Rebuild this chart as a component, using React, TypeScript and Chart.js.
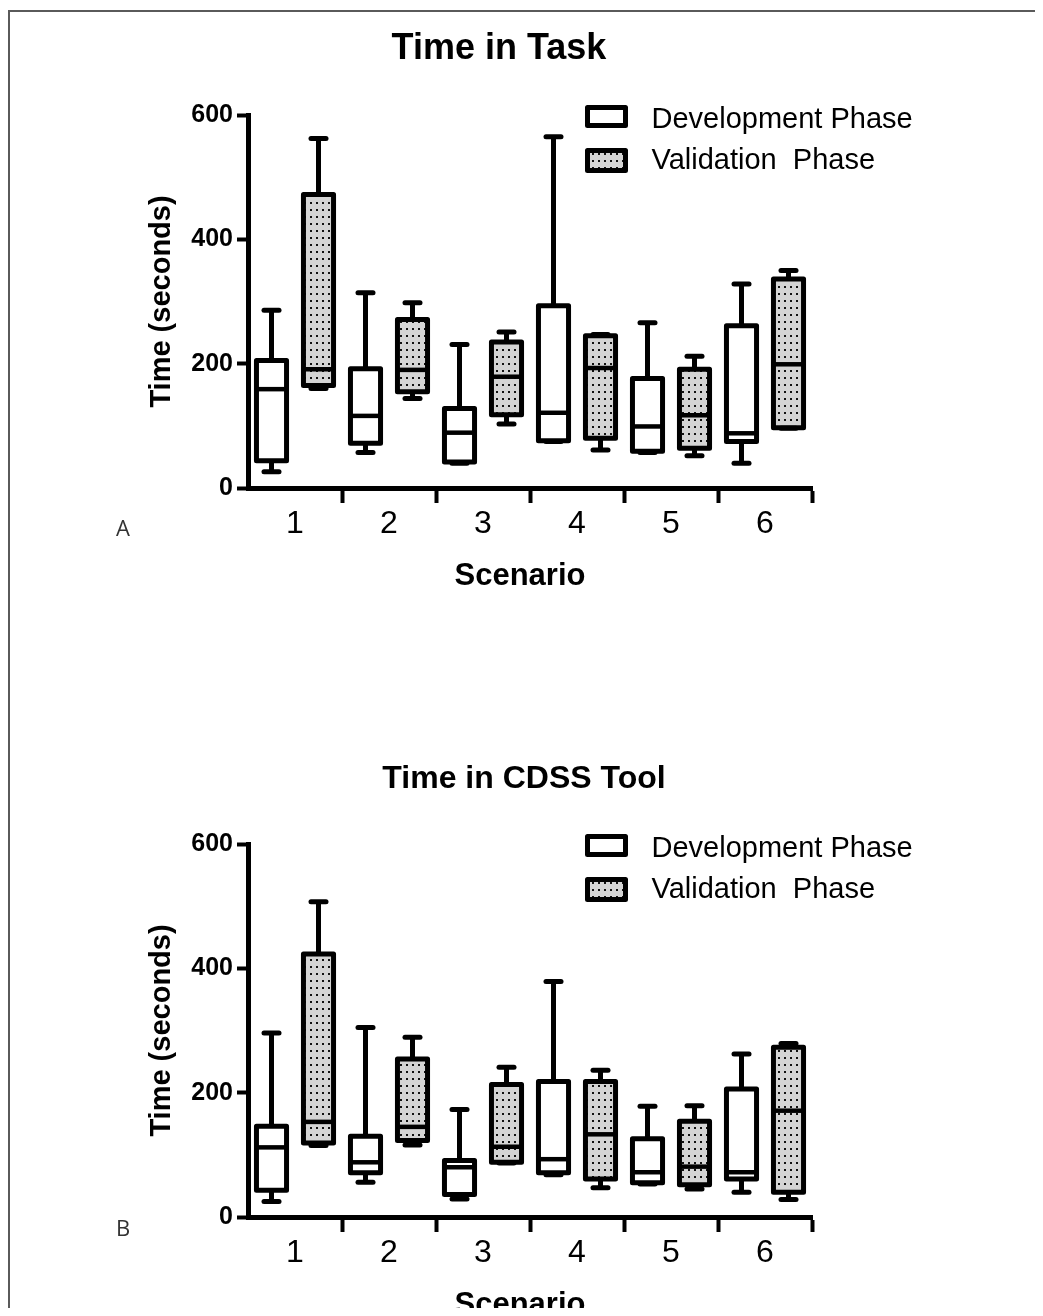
import React, { useEffect, useRef } from 'react';
import { Chart, registerables } from 'chart.js';

Chart.register(...registerables);

const scenarios = ['1', '2', '3', '4', '5', '6'];
const seriesNames = ['Development Phase', 'Validation  Phase'];
const yTickValues = [0, 200, 400, 600];

// Panel A: Time in Task (seconds)
const taskDevMin = [26, 57, 40, 75, 57, 40];
const taskDevQ1 = [44, 72, 42, 76, 59, 75];
const taskDevMedian = [159, 116, 89, 121, 99, 88];
const taskDevQ3 = [205, 192, 128, 293, 176, 261];
const taskDevMax = [286, 314, 231, 565, 266, 328];

const taskValMin = [160, 144, 103, 61, 52, 96];
const taskValQ1 = [165, 155, 118, 80, 64, 97];
const taskValMedian = [191, 190, 179, 193, 117, 199];
const taskValQ3 = [472, 271, 235, 245, 191, 336];
const taskValMax = [562, 298, 251, 247, 212, 350];

// Panel B: Time in CDSS Tool (seconds)
const cdssDevMin = [25, 56, 29, 68, 53, 40];
const cdssDevQ1 = [43, 71, 36, 71, 55, 61];
const cdssDevMedian = [112, 88, 80, 93, 72, 72];
const cdssDevQ3 = [146, 130, 91, 218, 126, 206];
const cdssDevMax = [296, 305, 173, 379, 178, 262];

const cdssValMin = [115, 116, 87, 47, 45, 28];
const cdssValQ1 = [119, 123, 88, 61, 52, 40];
const cdssValMedian = [153, 145, 113, 133, 81, 171];
const cdssValQ3 = [423, 254, 213, 218, 154, 273];
const cdssValMax = [507, 289, 241, 236, 179, 279];

const FONT = '"Liberation Sans", Arial, Helvetica, sans-serif';

function makeDotPattern(): CanvasPattern | string {
  const c = document.createElement('canvas');
  c.width = 6;
  c.height = 7;
  const g = c.getContext('2d');
  if (!g) return '#d3d3d3';
  g.fillStyle = '#d4d4d4';
  g.fillRect(0, 0, 6, 7);
  g.fillStyle = '#111';
  g.fillRect(2, 3, 2, 2);
  const p = g.createPattern(c, 'repeat');
  return p || '#d3d3d3';
}

const boxPlugin = {
  id: 'boxWhisker',
  afterDatasetsDraw(chart: any) {
    const ctx = chart.ctx;
    const ys = chart.scales.y;
    chart.data.datasets.forEach((ds: any, di: number) => {
      const meta = chart.getDatasetMeta(di);
      const st = ds.stats;
      meta.data.forEach((el: any, i: number) => {
        const { x, width } = el.getProps(['x', 'width'], true);
        const half = width / 2;
        const pMin = ys.getPixelForValue(st.min[i]);
        const pQ1 = ys.getPixelForValue(st.q1[i]);
        const pMed = ys.getPixelForValue(st.median[i]);
        const pQ3 = ys.getPixelForValue(st.q3[i]);
        const pMax = ys.getPixelForValue(st.max[i]);
        const line = (x1: number, y1: number, x2: number, y2: number) => {
          ctx.beginPath();
          ctx.moveTo(x1, y1);
          ctx.lineTo(x2, y2);
          ctx.stroke();
        };
        ctx.save();
        ctx.strokeStyle = '#000';
        ctx.lineWidth = 5;
        ctx.lineCap = 'butt';
        line(x, pQ3, x, pMax);
        line(x, pQ1, x, pMin);
        ctx.lineCap = 'round';
        line(x - 7.5, pMax, x + 7.5, pMax);
        line(x - 7.5, pMin, x + 7.5, pMin);
        ctx.lineJoin = 'round';
        ctx.strokeRect(x - half, pQ3, width, pQ1 - pQ3);
        ctx.lineCap = 'butt';
        ctx.lineWidth = 4.5;
        line(x - half, pMed, x + half, pMed);
        ctx.restore();
      });
    });
  },
};

const decorPlugin = {
  id: 'panelDecor',
  afterDraw(chart: any, _args: any, opts: any) {
    const ctx = chart.ctx;
    const area = chart.chartArea;
    ctx.save();
    // Title
    ctx.fillStyle = '#000';
    ctx.font = `bold ${opts.titleSize}px ${FONT}`;
    ctx.textAlign = 'center';
    ctx.textBaseline = 'alphabetic';
    ctx.fillText(opts.title, area.left + opts.titleOffset, 49);
    // X axis title
    ctx.font = `bold 31px ${FONT}`;
    ctx.textBaseline = 'middle';
    ctx.fillText(opts.xTitle, (area.left + area.right) / 2 - 10, area.bottom + 88);
    // Legend
    const ds = chart.data.datasets;
    const bx = area.left + 339.5;
    const rows = [
      { top: 97.5, h: 18, base: 118 },
      { top: 140.5, h: 20, base: 159 },
    ];
    ctx.textBaseline = 'alphabetic';
    ds.forEach((d: any, i: number) => {
      const r = rows[i];
      ctx.fillStyle = d.backgroundColor;
      ctx.fillRect(bx, r.top, 38, r.h);
      ctx.strokeStyle = '#000';
      ctx.lineWidth = 5;
      ctx.lineJoin = 'round';
      ctx.strokeRect(bx, r.top, 38, r.h);
      ctx.fillStyle = '#000';
      ctx.font = `29px ${FONT}`;
      ctx.textAlign = 'left';
      ctx.fillText(d.label, bx + 64, r.base);
    });
    ctx.restore();
  },
};

function buildConfig(
  title: string,
  titleSize: number,
  titleOffset: number,
  dev: number[][],
  val: number[][],
  pattern: CanvasPattern | string
): any {
  const [dMin, dQ1, dMed, dQ3, dMax] = dev;
  const [vMin, vQ1, vMed, vQ3, vMax] = val;
  return {
    type: 'bar',
    data: {
      labels: scenarios,
      datasets: [
        {
          label: seriesNames[0],
          data: dQ1.map((q, i) => [q, dQ3[i]]),
          backgroundColor: '#ffffff',
          borderWidth: 0,
          stats: { min: dMin, q1: dQ1, median: dMed, q3: dQ3, max: dMax },
        },
        {
          label: seriesNames[1],
          data: vQ1.map((q, i) => [q, vQ3[i]]),
          backgroundColor: pattern,
          borderWidth: 0,
          stats: { min: vMin, q1: vQ1, median: vMed, q3: vQ3, max: vMax },
        },
      ],
    },
    options: {
      animation: false,
      responsive: false,
      maintainAspectRatio: false,
      events: [],
      datasets: { bar: { categoryPercentage: 1, barPercentage: 0.64 } },
      layout: { padding: { top: 105, left: 0, right: 226, bottom: 0 } },
      plugins: {
        legend: { display: false },
        title: { display: false },
        tooltip: { enabled: false },
        panelDecor: { title, titleSize, titleOffset, xTitle: 'Scenario' },
      },
      scales: {
        x: {
          offset: true,
          grid: {
            display: true,
            offset: true,
            drawOnChartArea: false,
            drawTicks: true,
            tickLength: 15,
            tickWidth: 4,
            tickColor: (c: any) => (c.index === 0 ? 'rgba(0,0,0,0)' : '#000'),
          },
          border: { display: true, width: 5, color: '#000' },
          ticks: {
            color: '#000',
            font: { family: FONT, size: 32 },
            padding: 2,
            maxRotation: 0,
            autoSkip: false,
          },
          title: { display: false },
          afterFit: (s: any) => {
            s.height = 99;
          },
        },
        y: {
          min: 0,
          max: 600,
          afterBuildTicks: (s: any) => {
            s.ticks = yTickValues.map((v) => ({ value: v }));
          },
          grid: {
            display: true,
            drawOnChartArea: false,
            drawTicks: true,
            tickLength: 11,
            tickWidth: 4,
            tickColor: '#000',
          },
          border: { display: true, width: 5, color: '#000' },
          ticks: {
            color: '#000',
            font: { family: FONT, size: 25, weight: 'bold' },
            padding: 4,
          },
          title: {
            display: true,
            text: 'Time (seconds)',
            color: '#000',
            font: { family: FONT, size: 29, weight: 'bold' },
            padding: { top: 137, bottom: 0 },
          },
          afterFit: (s: any) => {
            s.width = 240;
          },
        },
      },
    },
    plugins: [boxPlugin, decorPlugin],
  };
}

export default function App() {
  const refA = useRef<HTMLCanvasElement | null>(null);
  const refB = useRef<HTMLCanvasElement | null>(null);

  useEffect(() => {
    const pattern = makeDotPattern();
    const charts: Chart[] = [];
    if (refA.current) {
      charts.push(
        new Chart(
          refA.current,
          buildConfig(
            'Time in Task',
            36,
            251,
            [taskDevMin, taskDevQ1, taskDevMedian, taskDevQ3, taskDevMax],
            [taskValMin, taskValQ1, taskValMedian, taskValQ3, taskValMax],
            pattern
          )
        )
      );
    }
    if (refB.current) {
      charts.push(
        new Chart(
          refB.current,
          buildConfig(
            'Time in CDSS Tool',
            32,
            276,
            [cdssDevMin, cdssDevQ1, cdssDevMedian, cdssDevQ3, cdssDevMax],
            [cdssValMin, cdssValQ1, cdssValMedian, cdssValQ3, cdssValMax],
            pattern
          )
        )
      );
    }
    return () => {
      charts.forEach((c) => c.destroy());
    };
  }, []);

  const letterStyle: React.CSSProperties = {
    position: 'absolute',
    left: 108,
    fontFamily: '"Open Sans", "DejaVu Sans", sans-serif',
    fontSize: 22,
    color: '#333',
    lineHeight: '24px',
  };

  return (
    <div style={{ position: 'relative', height: 1300, background: '#fff' }}>
      <div
        style={{
          position: 'absolute',
          left: 0,
          top: 2,
          width: 1033,
          height: 1304,
          borderTop: '2px solid #5a5a5a',
          borderLeft: '2px solid #5a5a5a',
        }}
      />
      <canvas
        ref={refA}
        width={1030}
        height={577}
        style={{ position: 'absolute', left: 0, top: 2, width: 1030, height: 577 }}
      />
      <canvas
        ref={refB}
        width={1030}
        height={577}
        style={{ position: 'absolute', left: 0, top: 731, width: 1030, height: 577 }}
      />
      <div style={{ ...letterStyle, top: 507 }}>A</div>
      <div style={{ ...letterStyle, top: 1207 }}>B</div>
    </div>
  );
}
